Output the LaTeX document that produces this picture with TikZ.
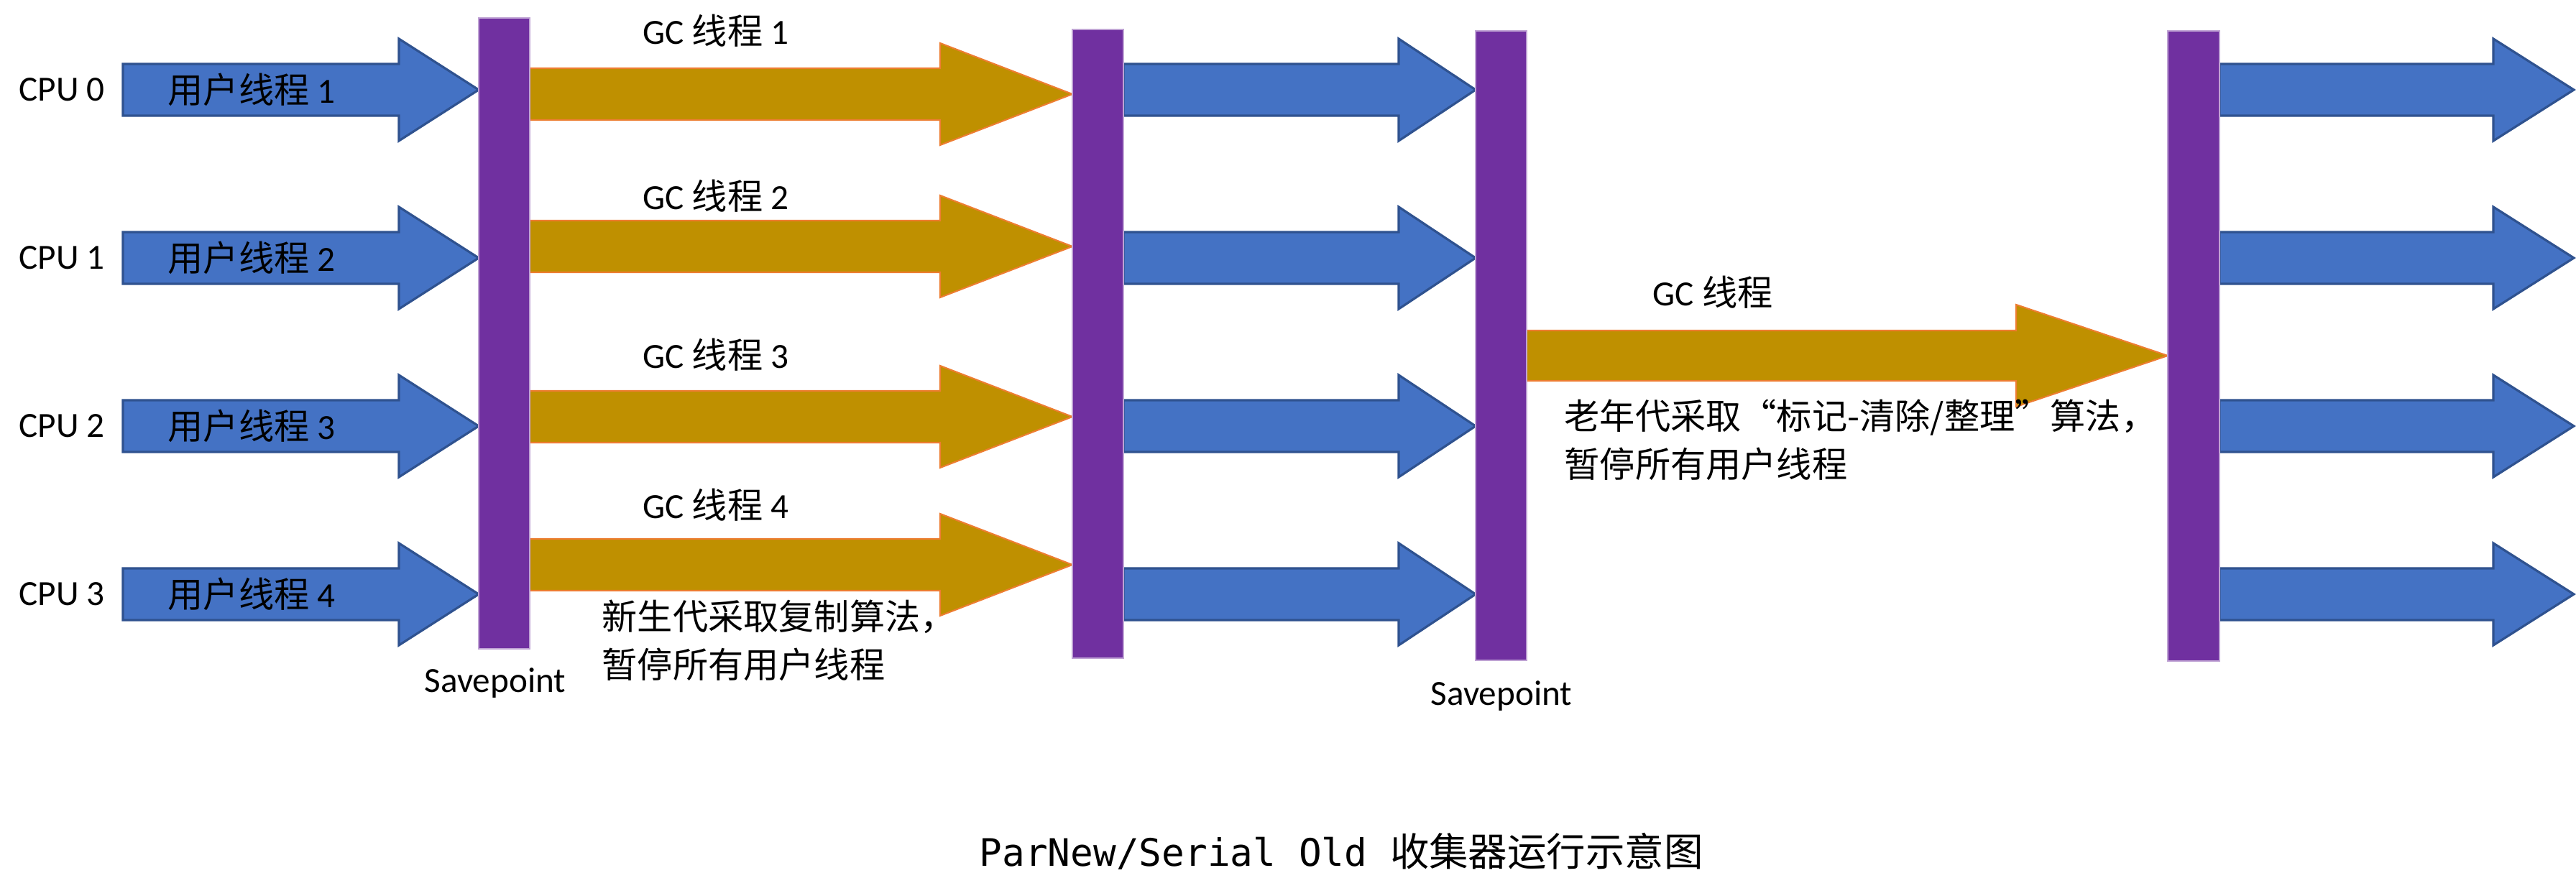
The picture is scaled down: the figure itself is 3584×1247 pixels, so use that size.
\documentclass[tikz,border=0pt]{standalone}
\usepackage{fontspec}
\setmainfont{Carlito}
\newfontfamily\cjk{Noto Sans CJK SC}
\newfontfamily\titlemono{DejaVu Sans Mono}
\usetikzlibrary{positioning}
\definecolor{userblue}{HTML}{4472C4}
\definecolor{userborder}{HTML}{2F528F}
\definecolor{gcgold}{HTML}{BF9000}
\definecolor{gcborder}{HTML}{ED7D31}
\definecolor{barpurple}{HTML}{7030A0}

\begin{document}
\begin{tikzpicture}[
  x=0.1mm, y=-0.1mm,
  font=\fontsize{14}{19}\selectfont,
  bar/.style={fill=barpurple, draw=barpurple!45!white, line width=0.4pt},
  userarrow/.style={fill=userblue, draw=userborder, line width=0.9pt},
  gcarrow/.style={fill=gcgold, draw=gcborder, line width=0.6pt},
  note/.style={inner sep=0pt, align=left, anchor=west}
]
\useasboundingbox (0,0) rectangle (3584,1247);

% user threads, before and after each pause
\foreach \c/\i/\j in {125/0/1, 359/1/2, 593/2/3, 827/3/4} {
  \foreach \xa/\xb/\h in {171/666/111, 1563/2053/107, 3088/3581/112}
    \draw[userarrow] (\xa,{\c-36}) -- ({\xb-\h},{\c-36}) -- ({\xb-\h},{\c-71})
      -- (\xb,\c) -- ({\xb-\h},{\c+71}) -- ({\xb-\h},{\c+36}) -- (\xa,{\c+36}) -- cycle;
  \node (cpu\i) at (86,\c) {CPU \i};
  \node[anchor=west, inner sep=0pt] (user\j) at (233,\c) {{\cjk 用户线程} \j};
}

% young generation: parallel GC threads
\foreach \c/\t [count=\i] in {131/43, 343/273, 580/494, 786/703} {
  \draw[gcarrow] (737,{\c-36}) -- (1308,{\c-36}) -- (1308,{\c-71})
    -- (1492,\c) -- (1308,{\c+71}) -- (1308,{\c+36}) -- (737,{\c+36}) -- cycle;
  \node (gc\i) at (996,\t) {GC {\cjk 线程} \i};
}

% old generation: single GC thread
\draw[gcarrow] (2124,460) -- (2805,460) -- (2805,424) -- (3016,495)
  -- (2805,566) -- (2805,530) -- (2124,530) -- cycle;
\node (gcold) at (2383,407) {GC {\cjk 线程}};

% safepoints
\draw[bar] (666,25) rectangle (737,903);
\draw[bar] (1492,41) rectangle (1563,916);
\draw[bar] (2053,43) rectangle (2124,919);
\draw[bar] (3016,43) rectangle (3088,920);
\node (sp1) at (689,951) {Savepoint};
\node (sp2) at (2089,969) {Savepoint};

\node[note] (young) at (837,891) {{\cjk 新生代采取复制算法，}\\{\cjk 暂停所有用户线程}};
\node[note] (old) at (2176,612) {{\cjk 老年代采取“标记-清除/整理”算法，}\\{\cjk 暂停所有用户线程}};

\node[anchor=west, inner sep=0pt] (title) at (1362,1185)
  {{\fontsize{15}{18}\selectfont\titlemono ParNew/Serial Old }{\fontsize{15.5}{18}\selectfont\cjk 收集器运行示意图}};
\end{tikzpicture}
\end{document}
